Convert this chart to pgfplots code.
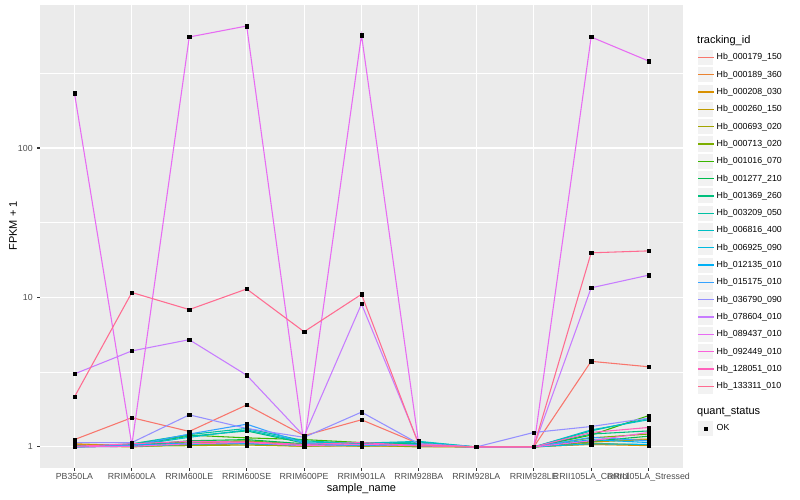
\documentclass[border=0pt]{standalone}
\usepackage{fontspec}
\setmainfont{Liberation Sans}
\usepackage{pgfplots}
\usepackage{pgfplotstable}
\pgfplotsset{compat=1.18}

% ggplot2 hue palette, 20 levels
\definecolor{c1}{HTML}{F8766D}
\definecolor{c2}{HTML}{EA8331}
\definecolor{c3}{HTML}{D89000}
\definecolor{c4}{HTML}{C09B00}
\definecolor{c5}{HTML}{A3A500}
\definecolor{c6}{HTML}{7CAE00}
\definecolor{c7}{HTML}{39B600}
\definecolor{c8}{HTML}{00BB4E}
\definecolor{c9}{HTML}{00BF7D}
\definecolor{c10}{HTML}{00C1A3}
\definecolor{c11}{HTML}{00BFC4}
\definecolor{c12}{HTML}{00BAE0}
\definecolor{c13}{HTML}{00B0F6}
\definecolor{c14}{HTML}{35A2FF}
\definecolor{c15}{HTML}{9590FF}
\definecolor{c16}{HTML}{C77CFF}
\definecolor{c17}{HTML}{E76BF3}
\definecolor{c18}{HTML}{FA62DB}
\definecolor{c19}{HTML}{FF62BC}
\definecolor{c20}{HTML}{FF6C91}
\definecolor{panel}{HTML}{EBEBEB}
\definecolor{keybg}{HTML}{F2F2F2}
\definecolor{gray30}{HTML}{4D4D4D}
\definecolor{gray20}{HTML}{333333}

% FPKM + 1 per sample (rows) and tracking id (columns s1..s20)
\pgfplotstableread{
x  s1   s2   s3   s4   s5   s6   s7   s8   s9   s10  s11  s12  s13  s14  s15  s16   s17  s18  s19  s20
0  1.12 1.04 1.05 1.02 1.01 1.02 1.01 1.00 1.01 1.00 1.01 1.00 1.00 1.01 1.07 3.08  233  1.00 1.01 2.16
1  1.57 1.01 1.02 1.00 1.01 1.03 1.04 1.02 1.03 1.05 1.02 1.01 1.03 1.02 1.07 4.39  1.03 1.01 1.05 10.8
2  1.27 1.06 1.03 1.04 1.02 1.08 1.20 1.10 1.18 1.21 1.16 1.04 1.06 1.22 1.64 5.22  553  1.05 1.09 8.3
3  1.91 1.09 1.05 1.06 1.03 1.10 1.15 1.12 1.28 1.33 1.30 1.06 1.05 1.42 1.33 3.02  655  1.07 1.08 11.4
4  1.19 1.02 1.01 1.03 1.01 1.04 1.12 1.05 1.06 1.10 1.08 1.02 1.03 1.06 1.16 1.18  1.03 1.02 1.04 5.9
5  1.52 1.04 1.02 1.01 1.03 1.02 1.07 1.03 1.04 1.05 1.06 1.02 1.04 1.03 1.71 9.05  570  1.04 1.07 10.5
6  1.05 1.03 1.01 1.02 1.00 1.03 1.04 1.02 1.06 1.08 1.09 1.03 1.02 1.04 1.05 1.05  1.03 1.02 1.02 1.03
7  1.00 1.00 1.00 1.00 1.00 1.00 1.00 1.00 1.00 1.00 1.00 1.00 1.00 1.00 1.00 1.00  1.00 1.00 1.00 1.00
8  1.00 1.00 1.00 1.00 1.00 1.00 1.00 1.00 1.00 1.00 1.00 1.00 1.00 1.00 1.25 1.00  1.00 1.00 1.00 1.00
9  3.74 1.10 1.04 1.08 1.06 1.15 1.20 1.09 1.22 1.28 1.30 1.05 1.12 1.16 1.37 11.6  553  1.10 1.25 19.9
10 3.44 1.13 1.02 1.12 1.03 1.22 1.62 1.18 1.28 1.55 1.52 1.04 1.07 1.10 1.56 14.1  382  1.25 1.35 20.5
}\fpkm

\begin{document}
\begin{tikzpicture}
\path[use as bounding box] (0,0) rectangle (800pt,500pt);
\begin{axis}[
  at={(40pt,32pt)}, anchor=south west,
  scale only axis, width=643pt, height=463pt,
  xmin=-0.6, xmax=10.6,
  ymode=log, ymin=0.7231, ymax=905.4,
  axis background/.style={fill=panel},
  axis line style={draw=none},
  xtick={0,...,10},
  xticklabels={PB350LA,RRIM600LA,RRIM600LE,RRIM600SE,RRIM600PE,RRIM901LA,RRIM928BA,RRIM928LA,RRIM928LE,RRII105LA\_Control,RRII105LA\_Stressed},
  ytick={1,10,100}, yticklabels={1,10,100},
  minor ytick={3.1623,31.623,316.23},
  grid=both,
  major grid style={white, line width=1.07pt},
  minor grid style={white, line width=0.53pt},
  tick pos=left, tick align=outside,
  major tick length=2.75pt, minor tick length=0pt,
  tick style={gray20, line width=1.07pt},
  /pgf/number format/assume math mode=true,
  ticklabel style={font=\fontsize{8.8}{10}\selectfont, text=gray30, inner sep=0pt},
  xticklabel style={yshift=-2.2pt},
  yticklabel style={xshift=-4.4pt},
  xlabel={sample\_name}, ylabel={FPKM + 1},
  label style={font=\fontsize{11}{13}\selectfont},
  xlabel style={at={(axis description cs:0.5,-0.0454)}, anchor=center},
  ylabel style={at={(axis description cs:-0.042,0.523)}, anchor=center},
  legend cell align=left,
  legend style={at={(axis description cs:1.0218,0.9057)}, anchor=north west,
    draw=none, fill=none, inner sep=0pt, row sep=0pt, column sep=2.2pt,
    font=\fontsize{8.8}{10}\selectfont, nodes={inner sep=0pt}},
  legend image code/.code={
    \fill[keybg, draw=white, line width=1.07pt] (0.535pt,-8.115pt) rectangle (16.765pt,8.115pt);
    \draw[#1, line width=1.35pt] (0.9pt,0pt) -- (16.4pt,0pt);
  },
]
\pgfplotsinvokeforeach{1,...,20}{
  \addplot[c#1, line width=1.07pt, no markers] table[x=x, y=s#1] {\fpkm};
}
\pgfplotsinvokeforeach{1,...,20}{
  \addplot[only marks, mark=square*, mark size=1.7pt, black, forget plot] table[x=x, y=s#1] {\fpkm};
}
\addlegendimage{legend image code/.code={
    \path[draw=none, fill=none] (0pt,-8.115pt) rectangle (0pt,33.8pt);
    \fill[keybg, draw=white, line width=1.07pt] (0.535pt,-8.115pt) rectangle (16.765pt,8.115pt);
    \draw[black, mark=square*, mark size=1.7pt, only marks] plot coordinates {(8.65pt,0pt)};
  }}
\legend{Hb\_000179\_150,Hb\_000189\_360,Hb\_000208\_030,Hb\_000260\_150,Hb\_000693\_020,
  Hb\_000713\_020,Hb\_001016\_070,Hb\_001277\_210,Hb\_001369\_260,Hb\_003209\_050,
  Hb\_006816\_400,Hb\_006925\_090,Hb\_012135\_010,Hb\_015175\_010,Hb\_036790\_090,
  Hb\_078604\_010,Hb\_089437\_010,Hb\_092449\_010,Hb\_128051\_010,Hb\_133311\_010,OK}
\end{axis}
\node[anchor=west, inner sep=0pt, font=\fontsize{11}{13}\selectfont] at (697pt,459.3pt) {tracking\_id};
\node[anchor=west, inner sep=0pt, font=\fontsize{11}{13}\selectfont] at (697pt,88pt) {quant\_status};
\end{tikzpicture}
\end{document}
